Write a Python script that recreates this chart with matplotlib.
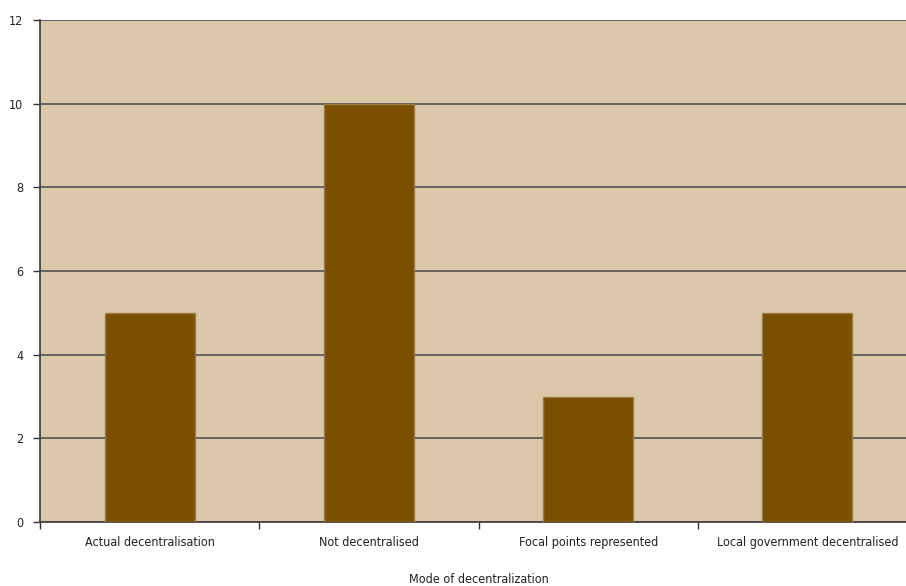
import matplotlib.pyplot as plt

categories = ["Actual decentralisation", "Not decentralised",
              "Focal points represented", "Local government decentralised"]
counts = [5, 10, 3, 5]
y_ticks = [0, 2, 4, 6, 8, 10, 12]

plt.rcParams['font.family'] = ["DejaVu Sans"]
plt.rcParams['font.stretch'] = "condensed"

fig = plt.figure(figsize=(9.06, 5.86), dpi=100)
ax = fig.add_axes([0.0442, 0.1092, 0.968, 0.8567])
ax.set_facecolor("#dbc8aa")

pos = range(len(categories))
ax.bar(pos, counts, width=0.41, color="#7a5000", edgecolor="#9b7a45",
       linewidth=1.0, zorder=3)

ax.set_xlim(-0.5, len(categories) - 0.5)
ax.set_ylim(0, 12)
ax.set_yticks(y_ticks)
ax.yaxis.grid(True, color="#5c5c5c", linewidth=1.3, zorder=1)
ax.set_axisbelow(True)

# category boundaries get the tick marks, names sit between them
ax.set_xticks([i - 0.5 for i in pos])
ax.set_xticklabels([])
ax.set_xticks(list(pos), minor=True)
ax.set_xticklabels(categories, minor=True)
ax.tick_params(axis="x", which="minor", length=0, pad=10, labelsize=9, colors="#222222")
ax.tick_params(axis="x", which="major", length=5, width=1, color="#333333")
ax.tick_params(axis="y", length=5, width=1, color="#333333", labelsize=9,
               labelcolor="#222222", pad=7)

for s in ["top", "right"]:
    ax.spines[s].set_visible(False)
ax.spines["left"].set_color("#444444")
ax.spines["left"].set_linewidth(1.3)
ax.spines["bottom"].set_color("#444444")
ax.spines["bottom"].set_linewidth(1.3)

ax.set_xlabel("Mode of decentralization", fontsize=9, color="#222222", labelpad=17)

fig.savefig("out.png", dpi=100)
